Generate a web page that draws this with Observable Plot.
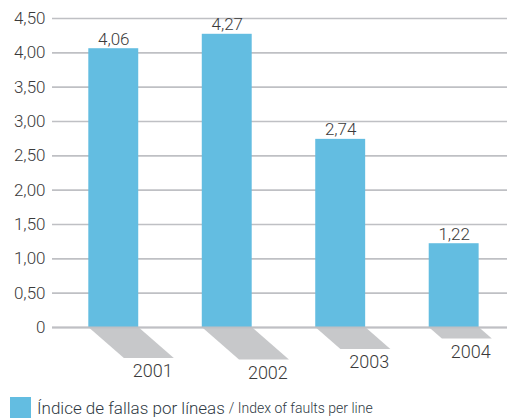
<!DOCTYPE html>
<html>
<head>
<meta charset="utf-8">
<script src="https://cdn.jsdelivr.net/npm/d3@7"></script>
<script src="https://cdn.jsdelivr.net/npm/@observablehq/plot@0.6"></script>
<style>
  body { margin: 0; background: #fff; font-family: Roboto, "DejaVu Sans Condensed", sans-serif; font-weight: 300; }
  #legend { display: flex; align-items: center; margin: 7px 0 0 10px; color: #2f3a44; }
  #legend .sw { width: 21px; height: 21px; background: #63bde1; margin-right: 6px; }
  #legend .es { font-size: 17px; }
  #legend .en { font-size: 14px; margin-left: 4px; }
</style>
</head>
<body>
<div id="chart"></div>
<script>
const years = [2001, 2002, 2003, 2004];
const values = [4.06, 4.27, 2.74, 1.22];
const yTicks = [0, 0.5, 1, 1.5, 2, 2.5, 3, 3.5, 4, 4.5];
const legendEs = "Índice de fallas por líneas";
const legendEn = "/ Index of faults per line";

const data = years.map((year, i) => ({year, value: values[i]}));
const loc = d3.formatLocale({decimal: ",", thousands: ".", grouping: [3], currency: ["", "€"]});
const f2 = loc.format(".2f");
const fmt = d => d === 0 ? "0" : f2(d);

const half = 0.22;
const depthOf = v => 0.045 + 0.1 * v;
const shiftOf = v => depthOf(v) * 0.695;
const shadow = data.flatMap(d => [
  {year: d.year, y: 0, x1: d.year - half, x2: d.year + half},
  {year: d.year, y: -depthOf(d.value), x1: d.year - half + shiftOf(d.value), x2: d.year + half + shiftOf(d.value)}
]);

const chart = Plot.plot({
  width: 507,
  height: 390,
  marginLeft: 52,
  marginRight: 0,
  marginTop: 18,
  marginBottom: 63,
  style: {fontFamily: "Roboto, \"DejaVu Sans Condensed\", sans-serif", fontWeight: 300, background: "#fff", color: "#3a3a3a"},
  x: {type: "linear", domain: [2000.46, 2004.47], axis: null},
  y: {domain: [0, 4.5], axis: null},
  marks: [
    Plot.ruleY(yTicks, {stroke: "#bfc0c4", strokeWidth: 1.6}),
    Plot.areaX(shadow, {y: "y", x1: "x1", x2: "x2", z: "year", fill: "#c7c8ca", curve: "linear"}),
    Plot.rectY(data, {x1: d => d.year - half, x2: d => d.year + half, y1: 0, y2: "value", fill: "#63bde1"}),
    Plot.ruleY([0], {stroke: "#bfc0c4", strokeWidth: 2}),
    Plot.axisY(yTicks, {tickSize: 0, tickPadding: 7, tickFormat: fmt, fontSize: 17, fill: "#3a3a3a"}),
    Plot.text(data, {x: "year", y: "value", text: d => fmt(d.value), dy: -4, lineAnchor: "bottom", fontSize: 17, fill: "#3a3a3a"}),
    Plot.text(data, {x: d => d.year + shiftOf(d.value) + 0.03, y: d => -depthOf(d.value), text: d => String(d.year), dy: 13, lineAnchor: "middle", fontSize: 18, fill: "#3a3a3a"})
  ]
});
document.getElementById("chart").append(chart);

const lg = document.createElement("div");
lg.id = "legend";
lg.innerHTML = `<div class="sw"></div><span class="es"></span><span class="en"></span>`;
lg.querySelector(".es").textContent = legendEs;
lg.querySelector(".en").textContent = legendEn;
document.body.append(lg);
</script>
</body>
</html>
